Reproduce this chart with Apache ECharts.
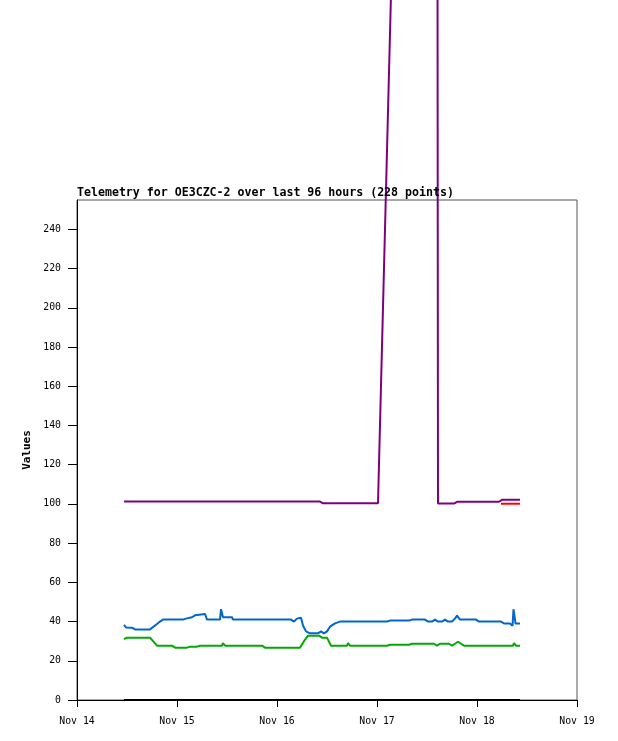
<!DOCTYPE html>
<html>
<head>
<meta charset="utf-8">
<script src="https://cdn.jsdelivr.net/npm/echarts@6/dist/echarts.min.js"></script>
<style>
  html, body { margin: 0; padding: 0; background: #fff; }
  #chart { width: 618px; height: 741px; }
</style>
</head>
<body>
<div id="chart"></div>
<script>
// x = days since Nov 14 00:00
var dayLabels = ['Nov 14', 'Nov 15', 'Nov 16', 'Nov 17', 'Nov 18', 'Nov 19'];

var purpleSeries = [
  [0.47, 101.2], [2.43, 101.2], [2.46, 100.3], [3.01, 100.3], [3.15, 380],
  [3.605, 380], [3.61, 100.2], [3.77, 100.2], [3.80, 101.1], [4.22, 101.1],
  [4.25, 102.1], [4.43, 102.1]
];
var redSeries = [[4.24, 100.1], [4.43, 100.1]];
var blueSeries = [
  [0.47, 38.3], [0.49, 37], [0.55, 36.9], [0.58, 36], [0.73, 36], [0.80, 38.8],
  [0.83, 40], [0.86, 41], [1.06, 41], [1.09, 41.5], [1.15, 42.2], [1.18, 43.2],
  [1.28, 43.9], [1.30, 41], [1.43, 41], [1.44, 46.3], [1.46, 42.2], [1.55, 42.2],
  [1.56, 41], [2.14, 41], [2.17, 40], [2.20, 41.5], [2.24, 42], [2.26, 38],
  [2.29, 35], [2.33, 34], [2.41, 34], [2.44, 35], [2.47, 34], [2.50, 35],
  [2.53, 37.4], [2.58, 39.1], [2.63, 40], [3.10, 40], [3.13, 40.5], [3.32, 40.5],
  [3.35, 41], [3.48, 41], [3.51, 40], [3.55, 40], [3.58, 41], [3.61, 40],
  [3.65, 40], [3.68, 41], [3.71, 40], [3.75, 40], [3.78, 41.5], [3.80, 43],
  [3.83, 41], [3.99, 41], [4.02, 40], [4.24, 40], [4.27, 39], [4.33, 39],
  [4.355, 37.8], [4.365, 46.3], [4.375, 42.9], [4.385, 39], [4.43, 39]
];
var greenSeries = [
  [0.47, 31], [0.50, 31.8], [0.73, 31.8], [0.80, 27.7], [0.95, 27.7], [0.98, 26.7],
  [1.10, 26.7], [1.13, 27.2], [1.20, 27.2], [1.23, 27.7], [1.45, 27.7], [1.46, 29],
  [1.48, 27.7], [1.85, 27.7], [1.88, 26.7], [2.23, 26.7], [2.27, 30], [2.31, 32.8],
  [2.42, 32.8], [2.45, 31.8], [2.50, 31.8], [2.54, 27.7], [2.70, 27.7], [2.71, 29],
  [2.73, 27.7], [3.10, 27.7], [3.13, 28.2], [3.32, 28.2], [3.35, 28.7], [3.57, 28.7],
  [3.60, 27.7], [3.63, 28.7], [3.72, 28.7], [3.75, 27.7], [3.78, 28.7], [3.81, 29.7],
  [3.84, 28.7], [3.87, 27.7], [4.36, 27.7], [4.37, 29], [4.39, 27.7], [4.43, 27.7]
];
var blackSeries = [[0.47, 0], [4.43, 0]];

var chart = echarts.init(document.getElementById('chart'));

function lineSeries(data, color) {
  return {
    type: 'line',
    data: data,
    showSymbol: false,
    clip: false,
    animation: false,
    lineStyle: { color: color, width: 2 },
    itemStyle: { color: color }
  };
}

var option = {
  animation: false,
  title: {
    text: 'Telemetry for OE3CZC-2 over last 96 hours (228 points)',
    left: 77,
    top: 187,
    padding: 0,
    textStyle: {
      fontFamily: 'DejaVu Sans Mono',
      fontSize: 11.6,
      fontWeight: 'bold',
      color: '#000'
    }
  },
  grid: {
    left: 77,
    top: 200,
    right: 41,
    bottom: 41,
    show: true,
    borderColor: '#555',
    borderWidth: 1
  },
  xAxis: {
    type: 'value',
    min: 0,
    max: 5,
    interval: 1,
    axisLine: { lineStyle: { color: '#000' } },
    axisTick: { length: 7, lineStyle: { color: '#000' } },
    splitLine: { show: false },
    axisLabel: {
      margin: 16,
      fontFamily: 'DejaVu Sans Mono',
      fontSize: 9.8,
      color: '#000',
      formatter: function (v) { return dayLabels[Math.round(v)]; }
    }
  },
  yAxis: {
    type: 'value',
    min: 0,
    max: 255,
    interval: 20,
    name: 'Values',
    nameLocation: 'middle',
    nameGap: 36,
    nameTextStyle: {
      fontFamily: 'DejaVu Sans Mono',
      fontSize: 11,
      fontWeight: 'bold',
      color: '#000'
    },
    axisLine: { show: true, lineStyle: { color: '#000' } },
    axisTick: { show: true, length: 9, lineStyle: { color: '#000' } },
    splitLine: { show: false },
    axisLabel: {
      margin: 16,
      fontFamily: 'DejaVu Sans Mono',
      fontSize: 9.8,
      color: '#000',
      showMaxLabel: false
    }
  },
  series: [
    lineSeries(blackSeries, '#000000'),
    lineSeries(greenSeries, '#00aa00'),
    lineSeries(blueSeries, '#0066cc'),
    lineSeries(redSeries, '#ff0000'),
    lineSeries(purpleSeries, '#7f007f')
  ]
};

chart.setOption(option);
</script>
</body>
</html>
